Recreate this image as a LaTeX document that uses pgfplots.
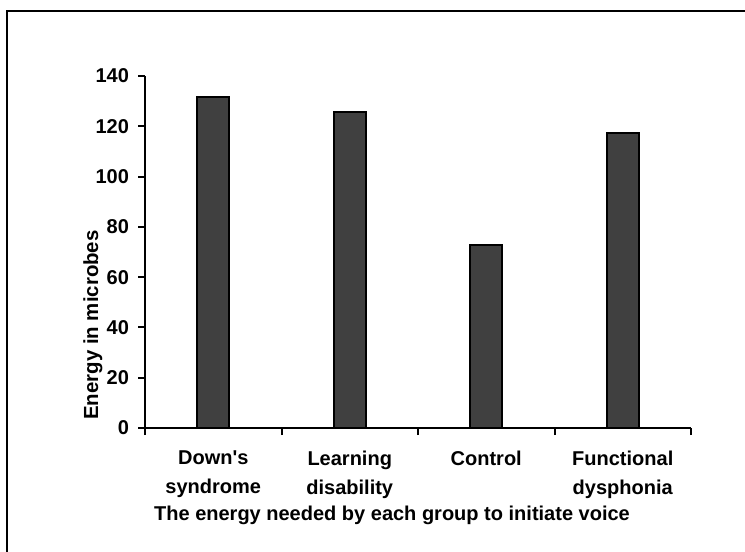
\documentclass[border=0pt]{standalone}
\usepackage{pgfplots}
\pgfplotsset{compat=1.18}
\usepackage{fontspec}
\setmainfont{Liberation Sans}
\definecolor{barc}{HTML}{404040}
\begin{document}
\begin{tikzpicture}
\useasboundingbox (0,0) rectangle (372.5pt,276pt);
\draw[line width=1pt] (3.5pt,0) -- (3.5pt,270.5pt) -- (372.5pt,270.5pt);
\begin{axis}[
  at={(72.5pt,62pt)}, anchor=south west,
  scale only axis, width=273pt, height=176pt,
  xmin=-0.5, xmax=3.5, ymin=0, ymax=140,
  axis x line=bottom, axis y line=left,
  axis line style={line width=1pt, -},
  ytick={0,20,...,140},
  xtick={0,1,2,3},
  xticklabels={{Down\textquotesingle s\\syndrome},{Learning\\disability},{Control},{Functional\\dysphonia}},
  minor xtick={-0.5,0.5,1.5,2.5,3.5},
  major x tick style={draw=none},
  tick style={line width=1pt, black},
  major tick length=3.5pt, minor tick length=3.5pt,
  tick align=outside,
  /pgf/number format/assume math mode=true,
  tick label style={font=\fontsize{10}{14.5}\selectfont\bfseries},
  xticklabel style={align=center, anchor=north, yshift=-4.5pt},
  yticklabel style={xshift=-1pt},
  clip=false,
]
\addplot[ybar, bar width=16pt, fill=barc, draw=black, line width=1pt]
  coordinates {(0,131.8) (1,125.5) (2,72.8) (3,117.2)};
\end{axis}
\node[rotate=90, font=\fontsize{10.2}{11}\selectfont\bfseries] at (46.5pt,113.5pt) {Energy in microbes};
\node[font=\fontsize{10}{11}\selectfont\bfseries] at (196pt,18.5pt) {The energy needed by each group to initiate voice};
\end{tikzpicture}
\end{document}
